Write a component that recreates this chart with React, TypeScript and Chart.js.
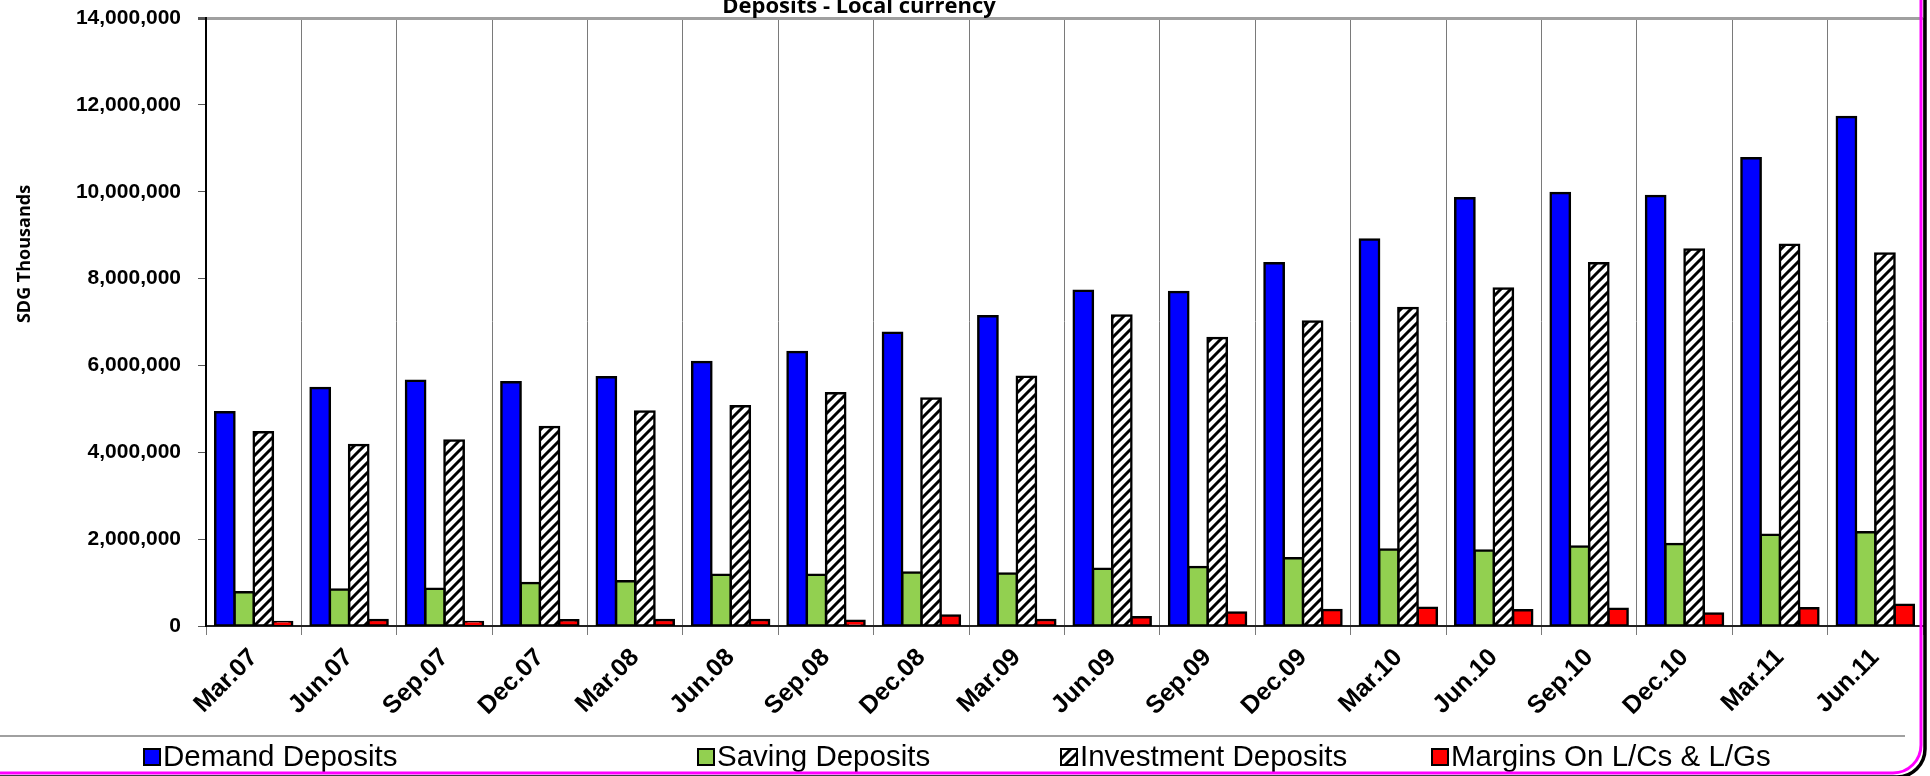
import React, { useEffect, useRef } from "react";
import { Chart, registerables } from "chart.js";

Chart.register(...registerables);

const chartTitle = "Deposits - Local currency";
const yAxisTitle = "SDG Thousands";
const categories = [
  "Mar.07", "Jun.07", "Sep.07", "Dec.07", "Mar.08", "Jun.08", "Sep.08", "Dec.08", "Mar.09",
  "Jun.09", "Sep.09", "Dec.09", "Mar.10", "Jun.10", "Sep.10", "Dec.10", "Mar.11", "Jun.11",
];
const seriesNames = ["Demand Deposits", "Saving Deposits", "Investment Deposits", "Margins On L/Cs & L/Gs"];
const demandDeposits = [
  4920000, 5480000, 5650000, 5610000, 5730000, 6080000, 6310000, 6750000, 7130000,
  7720000, 7690000, 8350000, 8900000, 9850000, 9970000, 9900000, 10770000, 11720000,
];
const savingDeposits = [
  780000, 840000, 860000, 990000, 1030000, 1180000, 1180000, 1230000, 1210000,
  1320000, 1360000, 1560000, 1760000, 1740000, 1830000, 1890000, 2100000, 2160000,
];
const investmentDeposits = [
  4460000, 4170000, 4270000, 4580000, 4940000, 5060000, 5360000, 5240000, 5740000,
  7150000, 6630000, 7010000, 7320000, 7770000, 8350000, 8670000, 8780000, 8580000,
];
const marginsDeposits = [
  90000, 140000, 90000, 130000, 140000, 140000, 120000, 240000, 140000,
  200000, 310000, 370000, 420000, 360000, 400000, 290000, 410000, 490000,
];
const yMin = 0;
const yMax = 14000000;
const yStep = 2000000;

const FONT = '"Liberation Sans", Arial, sans-serif';
const TITLE_FONT = '"Open Sans", "Liberation Sans", sans-serif';

function makeHatch(): CanvasPattern | string {
  const s = 10;
  const c = document.createElement("canvas");
  c.width = s;
  c.height = s;
  const g = c.getContext("2d");
  if (!g) return "#fff";
  g.fillStyle = "#fff";
  g.fillRect(0, 0, s, s);
  g.strokeStyle = "#000";
  g.lineWidth = 3;
  g.beginPath();
  g.moveTo(-2, 2);
  g.lineTo(2, -2);
  g.moveTo(-1, s + 1);
  g.lineTo(s + 1, -1);
  g.moveTo(s - 2, s + 2);
  g.lineTo(s + 2, s - 2);
  g.stroke();
  const p = g.createPattern(c, "repeat");
  return p || "#fff";
}

export default function App() {
  const ref = useRef<HTMLCanvasElement | null>(null);

  useEffect(() => {
    document.body.style.margin = "0";
    const canvas = ref.current;
    if (!canvas) return;
    const hatch = makeHatch();
    const fills = ["#0000FF", "#92D050", hatch, "#FF0000"];

    const decor = {
      id: "decor",
      afterDraw(chart: any) {
        const ctx = chart.ctx as CanvasRenderingContext2D;
        ctx.save();
        ctx.fillStyle = "#000";
        ctx.font = `bold 22px ${TITLE_FONT}`;
        ctx.textAlign = "center";
        ctx.textBaseline = "alphabetic";
        ctx.fillText(chartTitle, 859, 12.5);

        ctx.save();
        ctx.translate(30, 254);
        ctx.rotate(-Math.PI / 2);
        ctx.font = `bold 18px ${TITLE_FONT}`;
        ctx.textAlign = "center";
        ctx.textBaseline = "alphabetic";
        ctx.fillText(yAxisTitle, 0, 0);
        ctx.restore();

        ctx.strokeStyle = "#808080";
        ctx.lineWidth = 1.5;
        ctx.beginPath();
        ctx.moveTo(0, 736);
        ctx.lineTo(1905, 736);
        ctx.stroke();

        const xs = [144, 698, 1061, 1432];
        const cy = 757;
        const box = 16;
        ctx.font = `29.5px ${FONT}`;
        ctx.textAlign = "left";
        ctx.textBaseline = "middle";
        chart.data.datasets.forEach((ds: any, i: number) => {
          const x = xs[i];
          ctx.fillStyle = ds.backgroundColor;
          ctx.fillRect(x, cy - box / 2, box, box);
          ctx.strokeStyle = "#000";
          ctx.lineWidth = 2;
          ctx.strokeRect(x, cy - box / 2, box, box);
          ctx.fillStyle = "#000";
          ctx.fillText(ds.label, x + box + 3, cy + 1);
        });

        const r = 28;
        const drawBorder = (dx: number, dy: number) => {
          ctx.beginPath();
          ctx.moveTo(-10, 773 + dy);
          ctx.lineTo(1921 + dx - r, 773 + dy);
          ctx.arcTo(1921 + dx, 773 + dy, 1921 + dx, 773 + dy - r, r);
          ctx.lineTo(1921 + dx, -10);
          ctx.stroke();
        };
        ctx.strokeStyle = "#000";
        ctx.lineWidth = 3.5;
        drawBorder(4, 4);
        ctx.strokeStyle = "#FF00FF";
        ctx.lineWidth = 3;
        drawBorder(0, 0);
        ctx.restore();
      },
    };

    const chart = new Chart(canvas, {
      type: "bar",
      data: {
        labels: categories,
        datasets: [demandDeposits, savingDeposits, investmentDeposits, marginsDeposits].map((d, i) => ({
          label: seriesNames[i],
          data: d,
          backgroundColor: fills[i] as any,
          borderColor: "#000",
          borderWidth: 2.5,
          inflateAmount: 1.25,
          borderSkipped: false,
          categoryPercentage: 0.807,
          barPercentage: 1.0,
        })),
      },
      options: {
        animation: false,
        responsive: false,
        devicePixelRatio: 1,
        layout: { padding: { top: 18, right: 7, bottom: 40, left: 0 } },
        plugins: {
          legend: { display: false },
          title: { display: false },
          tooltip: { enabled: false },
        },
        scales: {
          x: {
            type: "category",
            offset: true,
            grid: {
              offset: true,
              display: true,
              color: "#7a7a7a",
              lineWidth: 1,
              tickLength: 9,
              tickColor: "#7a7a7a",
            },
            border: { display: true, color: "#222", width: 2 },
            ticks: {
              autoSkip: false,
              minRotation: 45,
              maxRotation: 45,
              padding: 8,
              color: "#000",
              font: { family: FONT, size: 25, weight: "bold" },
            },
            afterFit(scale: any) {
              scale.height = 110;
              scale.paddingLeft = 0;
              scale.paddingRight = 0;
            },
          },
          y: {
            min: yMin,
            max: yMax,
            ticks: {
              stepSize: yStep,
              padding: 17,
              color: "#000",
              font: { family: FONT, size: 21, weight: "bold" },
              callback: (v: any) => Number(v).toLocaleString("en-US"),
            },
            grid: {
              drawTicks: true,
              tickLength: 8,
              tickColor: "#555",
              color: (c: any) => (c.tick && c.tick.value === yMax ? "#a0a0a0" : "rgba(0,0,0,0)"),
              lineWidth: (c: any) => (c.tick && c.tick.value === yMax ? 3 : 1),
            },
            border: { display: true, color: "#000", width: 2 },
            afterFit(scale: any) {
              scale.width = 206;
              scale.paddingTop = 0;
              scale.paddingBottom = 0;
            },
          },
        },
      },
      plugins: [decor],
    });
    return () => chart.destroy();
  }, []);

  return (
    <div style={{ position: "relative", width: 1930, height: 776, background: "#fff" }}>
      <canvas ref={ref} width={1930} height={776} style={{ display: "block", width: 1930, height: 776 }} />
    </div>
  );
}
